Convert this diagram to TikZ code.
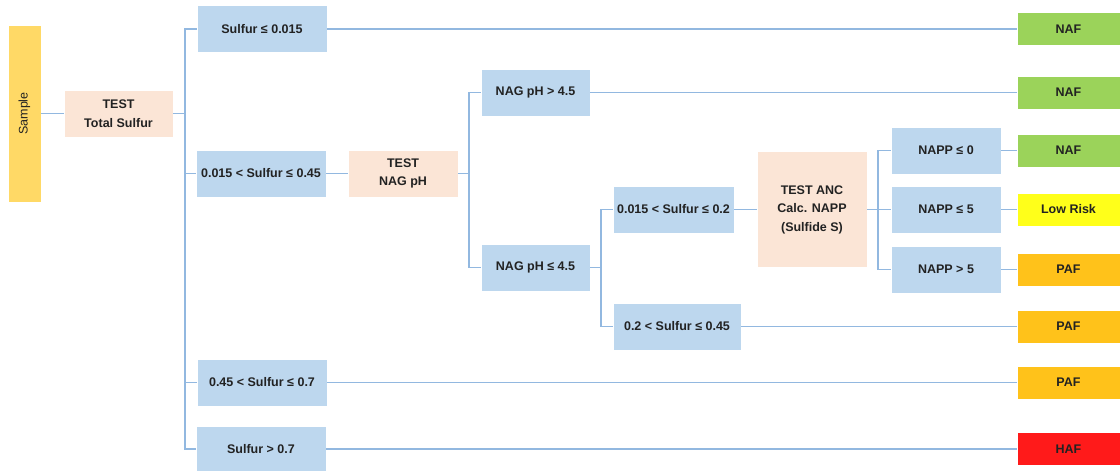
\documentclass[tikz,border=0pt]{standalone}
\usepackage{fontspec}
\setmainfont{Liberation Sans}
\usepackage{tikz}
\usetikzlibrary{calc, positioning}

\definecolor{condblue}{HTML}{BDD7EE}
\definecolor{testpeach}{HTML}{FBE5D6}
\definecolor{sampleyellow}{HTML}{FFD966}
\definecolor{nafgreen}{HTML}{9BD35A}
\definecolor{lowyellow}{HTML}{FFFF1A}
\definecolor{paforange}{HTML}{FFC21A}
\definecolor{hafred}{HTML}{FF1A1A}
\definecolor{linkblue}{HTML}{92B8E0}
\definecolor{txt}{HTML}{222222}

\tikzset{
    base/.style={rectangle, draw=white, line width=0.6pt, inner sep=0pt, align=center, text=txt,
        font=\fontsize{12.5}{18.5}\selectfont\bfseries},
    condbox/.style={base, fill=condblue, minimum height=47pt},
    testbox/.style={base, fill=testpeach, minimum height=47pt},
    outbox/.style={base, minimum width=103pt, minimum height=33pt},
    link/.style={draw=linkblue, line width=1.8pt}
}

\begin{document}
\begin{tikzpicture}[x=1pt, y=-1pt]
    \useasboundingbox (0,0) rectangle (1120,471);

    % 1. Mẫu và phép thử tổng lưu huỳnh
    \node[base, fill=sampleyellow, minimum width=33pt, minimum height=177pt] (sample) at (24.5,113.5) {};
    \node[rotate=90, text=txt, font=\fontsize{12.5}{15}\selectfont] (sampletxt) at (sample) {Sample};
    \node[testbox, minimum width=109pt] (ts) at (118.5,113.5) {TEST\\Total Sulfur};

    % 2. Các nhánh theo hàm lượng lưu huỳnh
    \node[condbox, minimum width=130pt] (s1) at (262,29) {Sulfur ≤ 0.015};
    \node[condbox, minimum width=130pt] (s2) at (261,173.5) {0.015 < Sulfur ≤ 0.45};
    \node[condbox, minimum width=130pt] (s3) at (262,382.5) {0.45 < Sulfur ≤ 0.7};
    \node[condbox, minimum width=130pt, minimum height=46pt] (s4) at (261,449) {Sulfur > 0.7};

    % 3. Phép thử NAG pH
    \node[testbox, minimum width=110pt] (nagt) at (403,173.5) {TEST\\NAG pH};
    \node[condbox, minimum width=109pt] (nag1) at (535.5,92.5) {NAG pH > 4.5};
    \node[condbox, minimum width=109pt] (nag2) at (535.5,267.5) {NAG pH ≤ 4.5};
    \node[condbox, minimum width=121pt] (s5) at (673.5,209.5) {0.015 < Sulfur ≤ 0.2};
    \node[condbox, minimum width=128pt] (s6) at (677,326.5) {0.2 < Sulfur ≤ 0.45};

    % 4. Phép thử ANC và NAPP
    \node[testbox, minimum width=110pt, minimum height=116pt] (anc) at (812,209.5) {TEST ANC\\Calc. NAPP\\(Sulfide S)};
    \node[condbox, minimum width=110pt] (napp1) at (946,150.5) {NAPP ≤ 0};
    \node[condbox, minimum width=110pt] (napp2) at (946,209.5) {NAPP ≤ 5};
    \node[condbox, minimum width=110pt] (napp3) at (946,269.5) {NAPP > 5};

    % 5. Kết quả phân loại
    \foreach \n/\y/\c/\t in {o1/29/nafgreen/NAF, o2/92.5/nafgreen/NAF, o3/150.5/nafgreen/NAF,
        o4/209.5/lowyellow/Low Risk, o5/269.5/paforange/PAF, o6/326.5/paforange/PAF,
        o7/382.5/paforange/PAF, o8/449/hafred/HAF} {
        \node[outbox, fill=\c] (\n) at (1068.5,\y) {\t};
    }

    % 6. Các đường nối
    \draw[link] (sample) -- (ts);
    \coordinate (busts) at (185,113.5);
    \draw[link] (ts) -- (busts);
    \foreach \n in {s1, s2, s3, s4} {
        \draw[link] (busts) |- (\n.west);
    }
    \draw[link] (s1) -- (o1);
    \draw[link] (s2) -- (nagt);
    \draw[link] (s3) -- (o7);
    \draw[link] (s4) -- (o8);

    \coordinate (busnag) at (469,173.5);
    \draw[link] (nagt) -- (busnag);
    \foreach \n in {nag1, nag2} {
        \draw[link] (busnag) |- (\n.west);
    }
    \draw[link] (nag1) -- (o2);

    \coordinate (buslow) at (601,267.5);
    \draw[link] (nag2) -- (buslow);
    \foreach \n in {s5, s6} {
        \draw[link] (buslow) |- (\n.west);
    }
    \draw[link] (s5) -- (anc);
    \draw[link] (s6) -- (o6);

    \coordinate (busanc) at (878,209.5);
    \draw[link] (anc) -- (busanc);
    \foreach \n in {napp1, napp2, napp3} {
        \draw[link] (busanc) |- (\n.west);
    }
    \draw[link] (napp1) -- (o3);
    \draw[link] (napp2) -- (o4);
    \draw[link] (napp3) -- (o5);

\end{tikzpicture}
\end{document}
